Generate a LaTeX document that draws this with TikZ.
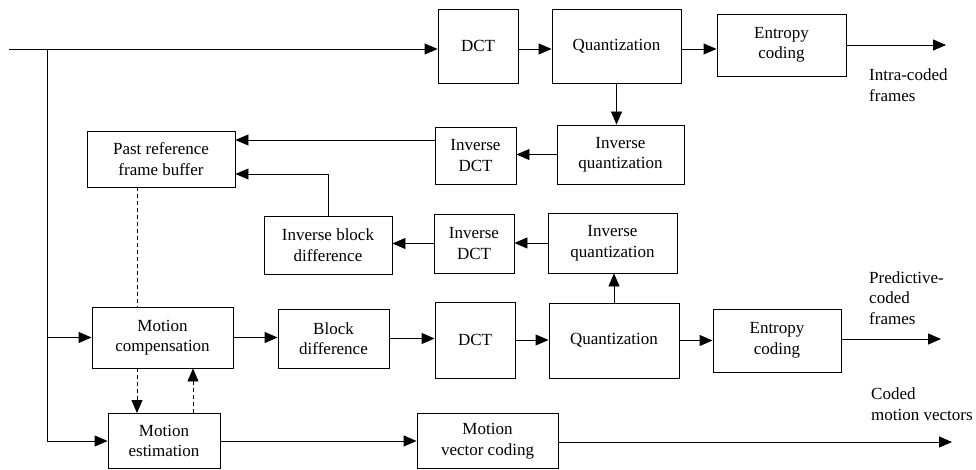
\documentclass[tikz,border=0pt]{standalone}
\usepackage{fontspec}
\setmainfont{Liberation Serif}
\usetikzlibrary{arrows.meta,calc}
\tikzset{
  box/.style={draw, line width=0.9pt, inner sep=1pt, align=center, font=\fontsize{17}{20.5}\selectfont},
  tip/.style={-{Triangle[length=13pt,width=11pt]}},
  arr/.style={line width=0.9pt, tip},
  ln/.style={line width=0.9pt},
  dsh/.style={line width=0.9pt, dash pattern=on 4pt off 3pt},
  lbl/.style={align=left, anchor=west, inner sep=0pt, font=\fontsize{17}{20.5}\selectfont}
}
\begin{document}
\begin{tikzpicture}[x=1pt,y=-1pt]
\useasboundingbox (0,0) rectangle (976,470);
% top row
\node[box, minimum width=80pt, minimum height=74pt] (DCTa) at (478,46) {DCT};
\node[box, minimum width=129pt, minimum height=74pt] (Qa) at (616.5,46) {Quantization};
\node[box, minimum width=129pt, minimum height=62pt] (Ea) at (781.5,45) {Entropy\\coding};
% second row
\node[box, minimum width=127pt, minimum height=59pt] (IQa) at (620.5,154.5) {Inverse\\quantization};
\node[box, minimum width=81pt, minimum height=57pt] (IDa) at (475.5,155.5) {Inverse\\DCT};
\node[box, minimum width=148pt, minimum height=56pt] (PRB) at (161,159) {Past reference\\frame buffer};
% third row
\node[box, minimum width=128pt, minimum height=58pt] (IBD) at (328,245) {Inverse block\\difference};
\node[box, minimum width=80pt, minimum height=59pt] (IDb) at (474,243.5) {Inverse\\DCT};
\node[box, minimum width=129pt, minimum height=60pt] (IQb) at (612.5,243) {Inverse\\quantization};
% fourth row
\node[box, minimum width=141pt, minimum height=61pt] (MC) at (162.5,337.5) {Motion\\compensation};
\node[box, minimum width=111pt, minimum height=59pt] (BD) at (333.5,338.5) {Block\\difference};
\node[box, minimum width=80pt, minimum height=76pt] (DCTb) at (475,340) {DCT};
\node[box, minimum width=130pt, minimum height=75pt] (Qb) at (614,340.5) {Quantization};
\node[box, minimum width=128pt, minimum height=63pt] (Eb) at (777,340.5) {Entropy\\coding};
% bottom row
\node[box, minimum width=112pt, minimum height=55pt] (ME) at (164,441) {Motion\\estimation};
\node[box, minimum width=141pt, minimum height=55pt] (MVC) at (487.5,441) {Motion\\vector coding};
% labels
\node[lbl] (L1) at (869,85) {Intra-coded\\frames};
\node[lbl] (L2) at (869,298) {Predictive-\\coded\\frames};
\node[lbl] (L3) at (871,404) {Coded\\motion vectors};
% coordinates
\coordinate (in0) at (9,49);
\coordinate (j0) at (47,49);
\coordinate (o1) at (946,45);
\coordinate (o2) at (941,339);
\coordinate (o3) at (952,442);
\coordinate (fb) at ($(IDa.west)+(0,-15.5)$);
\coordinate (fbin) at ($(PRB.east)+(0,15)$);
\coordinate (d1) at ($(PRB.south)+(-24,0)$);
\coordinate (d2) at ($(MC.south)+(-25.5,0)$);
\coordinate (d3) at ($(ME.north)+(29,0)$);
% input line and branches
\draw[ln] (in0) -- (j0) -- (j0 |- ME.west);
\draw[arr] (j0) -- (j0 -| DCTa.west);
\draw[arr] (j0 |- MC.west) -- (MC.west);
\draw[arr] (j0 |- ME.west) -- (ME.west);
% top row
\draw[arr] (DCTa.east |- j0) -- (Qa.west |- j0);
\draw[arr] (Qa.east |- j0) -- (Ea.west |- j0);
\draw[arr] (Ea.east) -- (o1);
\draw[arr] (Qa.south) -- (Qa.south |- IQa.north);
\draw[arr] (IQa.west) -- (IQa.west -| IDa.east);
\draw[arr] (fb) -- (fb -| PRB.east);
\draw[arr] (IBD.north) |- (fbin);
% third row
\draw[arr] (IQb.west) -- (IQb.west -| IDb.east);
\draw[arr] (IDb.west) -- (IDb.west -| IBD.east);
\draw[arr] (Qb.north) -- (Qb.north |- IQb.south);
% fourth row
\draw[arr] (MC.east) -- (MC.east -| BD.west);
\draw[arr] (BD.east) -- (BD.east -| DCTb.west);
\draw[arr] (DCTb.east) -- (DCTb.east -| Qb.west);
\draw[arr] (Qb.east) -- (Qb.east -| Eb.west);
\draw[arr] (Eb.east |- o2) -- (o2);
% motion
\draw[dsh] (d1) -- (d1 |- MC.north);
\draw[dsh, tip] (d2) -- (d2 |- ME.north);
\draw[dsh, tip] (d3) -- (d3 |- MC.south);
\draw[arr] (ME.east) -- (ME.east -| MVC.west);
\draw[arr] (MVC.east |- o3) -- (o3);
\end{tikzpicture}
\end{document}
